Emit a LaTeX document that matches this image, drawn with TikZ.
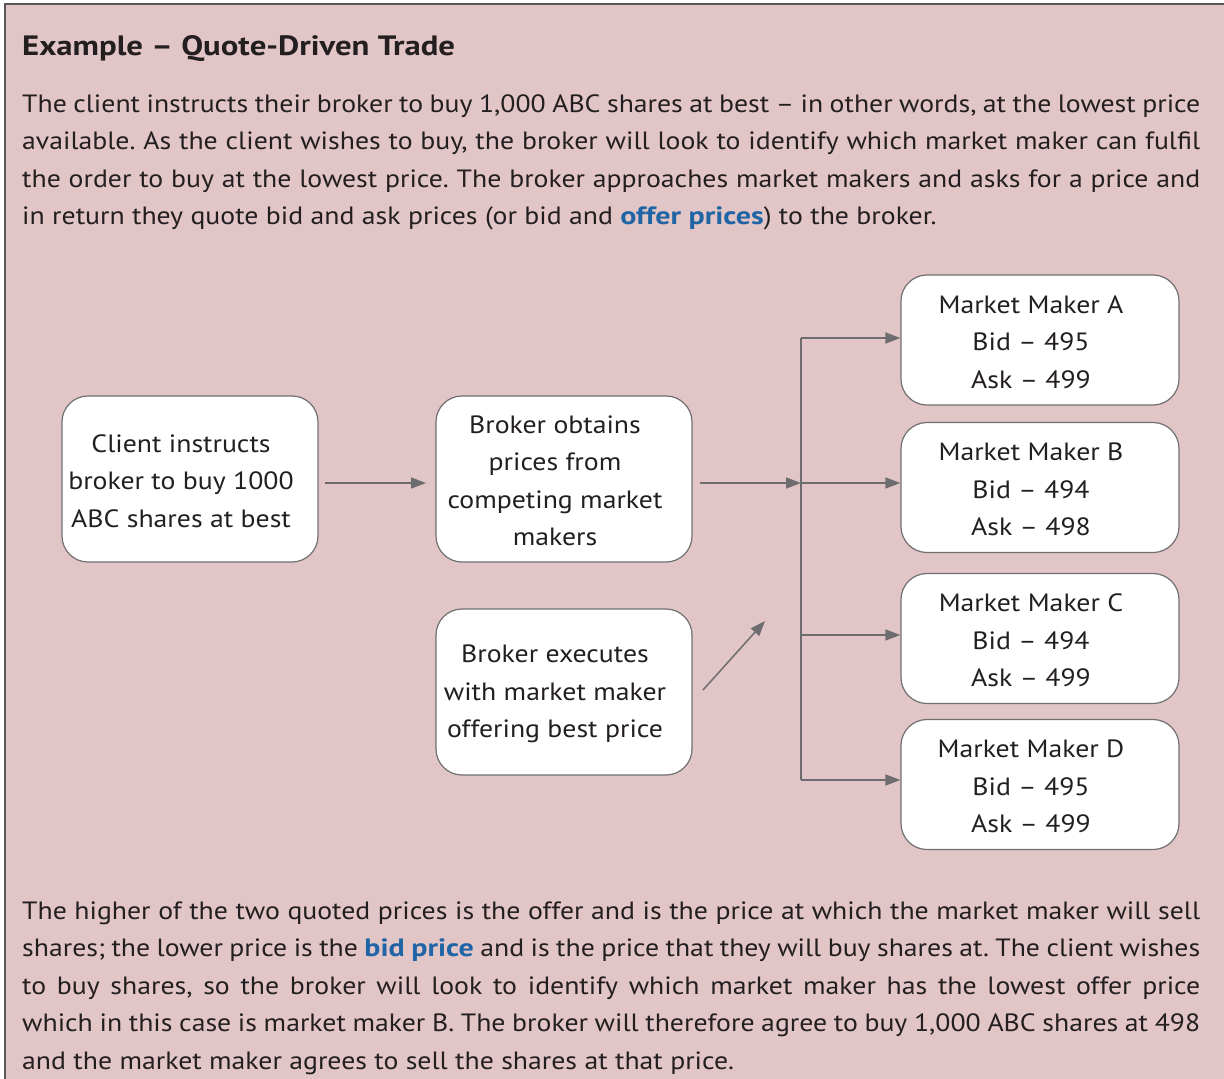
\documentclass[tikz,border=0pt]{standalone}
\usepackage{fontspec}
\setmainfont{PT Sans}[FakeStretch=1.11, BoldFeatures={FakeStretch=1.2}]
\newfontfamily\titlefont{PT Sans}[FakeStretch=1.17]
\usetikzlibrary{arrows.meta}
\definecolor{bgpink}{HTML}{E2C5C7}
\definecolor{txt}{HTML}{231F20}
\definecolor{linegrey}{HTML}{6D6D6F}
\definecolor{boxgrey}{HTML}{707070}
\definecolor{linkblue}{HTML}{1F65A6}
\tikzset{
  fbox/.style={draw=boxgrey, line width=1.2pt, fill=white, rounded corners=26pt, inner sep=0pt},
  btext/.style={align=center, text=txt, inner sep=0pt, font=\fontsize{25}{37.5}\selectfont},
  conn/.style={draw=linegrey, line width=1.5pt},
  arr/.style={conn, -{Triangle[length=15pt,width=11pt]}},
  para/.style={anchor=base west, text width=1178pt, inner sep=0pt, align=justify, text=txt,
    font=\fontsize{25}{37.5}\selectfont}
}
\begin{document}
\frenchspacing
\begin{tikzpicture}[x=1pt,y=-1pt]
\useasboundingbox (0,0) rectangle (1224,1079);
\fill[bgpink] (5,4) rectangle (1224,1079);
\draw[draw=linegrey!80!black, line width=1.6pt] (5,1079) -- (5,4) -- (1224,4);

\node[anchor=base west, inner sep=0pt, text=txt, font=\fontsize{28}{34}\titlefont\bfseries] (title) at (22,55) {Example – Quote-Driven Trade};

\node[para] (p1) at (22,112) {\frenchspacing\tolerance=10000 The client instructs their broker to buy 1,000 ABC shares at best – in other words, at the lowest price\linebreak available. As the client wishes to buy, the broker will look to identify which market maker can fulfil\linebreak the order to buy at the lowest price. The broker approaches market makers and asks for a price and\linebreak in return they quote bid and ask prices (or bid and \textcolor{linkblue}{\textbf{offer prices}}) to the broker.};

\node[para] (p2) at (22,919) {\frenchspacing\tolerance=10000 The higher of the two quoted prices is the offer and is the price at which the market maker will sell\linebreak shares; the lower price is the \textcolor{linkblue}{\textbf{bid price}} and is the price that they will buy shares at. The client wishes\linebreak to buy shares, so the broker will look to identify which market maker has the lowest offer price\linebreak which in this case is market maker B. The broker will therefore agree to buy 1,000 ABC shares at 498\linebreak and the market maker agrees to sell the shares at that price.};

\node[fbox, minimum width=256pt, minimum height=166pt] (client) at (190,479) {};
\node[fbox, minimum width=256pt, minimum height=166pt] (obtain) at (564,479) {};
\node[fbox, minimum width=256pt, minimum height=166pt] (exec) at (564,692) {};
\node[fbox, minimum width=278pt, minimum height=130pt] (mmA) at (1040,340) {};
\node[fbox, minimum width=278pt, minimum height=130pt] (mmB) at (1040,487.5) {};
\node[fbox, minimum width=278pt, minimum height=130pt] (mmC) at (1040,638.5) {};
\node[fbox, minimum width=278pt, minimum height=130pt] (mmD) at (1040,784.5) {};

\node[btext] (tclient) at ([shift={(-9,2)}]client.center) {Client instructs\\broker to buy 1000\\ABC shares at best};
\node[btext] (tobtain) at ([shift={(-9,2)}]obtain.center) {Broker obtains\\prices from\\competing market\\makers};
\node[btext] (texec) at ([shift={(-9,2)}]exec.center) {Broker executes\\with market maker\\offering best price};
\node[btext] (tA) at ([shift={(-9,2)}]mmA.center) {Market Maker A\\Bid – 495\\Ask – 499};
\node[btext] (tB) at ([shift={(-9,2)}]mmB.center) {Market Maker B\\Bid – 494\\Ask – 498};
\node[btext] (tC) at ([shift={(-9,2)}]mmC.center) {Market Maker C\\Bid – 494\\Ask – 499};
\node[btext] (tD) at ([shift={(-9,2)}]mmD.center) {Market Maker D\\Bid – 495\\Ask – 499};

\coordinate (c1s) at (325,483);
\coordinate (c1e) at (426,483);
\coordinate (c2s) at (700,483);
\coordinate (hub) at (801,483);
\coordinate (vtop) at (801,338);
\coordinate (vbot) at (801,780);
\coordinate (vc) at (801,635);
\coordinate (ds) at (703,690);
\coordinate (de) at (765,621);

\draw[arr] (c1s) -- (c1e);
\draw[arr] (c2s) -- (hub);
\draw[conn] (vtop) -- (vbot);
\draw[arr] (vtop) -- (mmA.west |- vtop);
\draw[arr] (hub) -- (mmB.west |- hub);
\draw[arr] (vc) -- (mmC.west |- vc);
\draw[arr] (vbot) -- (mmD.west |- vbot);
\draw[arr] (ds) -- (de);
\end{tikzpicture}
\end{document}
